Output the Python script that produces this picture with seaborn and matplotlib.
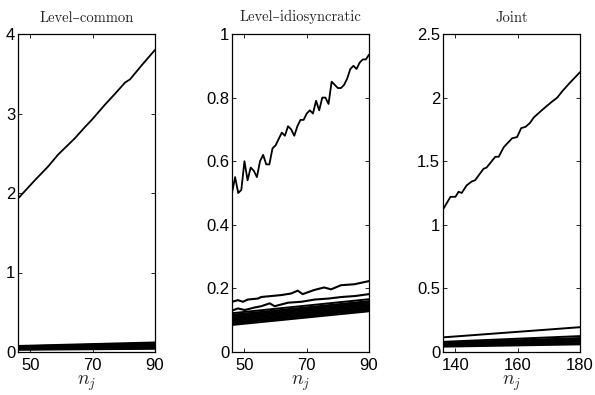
import numpy as np
import pandas as pd
import seaborn as sns
import matplotlib.pyplot as plt

# ---- Level-common ----
common_top_x = [46, 51.4, 55.6, 58.8, 64.3, 67.5, 69.7, 73.9, 77.2, 80.4, 82, 85.8, 90]
common_top_y = [1.93, 2.16, 2.33, 2.48, 2.69, 2.83, 2.92, 3.11, 3.25, 3.39, 3.43, 3.61, 3.80]
common_bundle_start = [0.028, 0.034, 0.040, 0.046, 0.052, 0.058, 0.064, 0.070, 0.076]
common_bundle_end = [0.040, 0.050, 0.060, 0.070, 0.080, 0.090, 0.100, 0.110, 0.120]

# ---- Level-idiosyncratic ----
idio_x = list(range(46, 91))
idio_top_y = [0.50, 0.55, 0.50, 0.51, 0.60, 0.54, 0.58, 0.57, 0.55, 0.60,
              0.62, 0.59, 0.59, 0.64, 0.65, 0.67, 0.69, 0.68, 0.71, 0.70,
              0.68, 0.71, 0.73, 0.73, 0.75, 0.76, 0.75, 0.79, 0.76, 0.80,
              0.80, 0.78, 0.85, 0.84, 0.83, 0.83, 0.84, 0.86, 0.89, 0.90,
              0.89, 0.91, 0.92, 0.92, 0.935]
idio_a_x = [46, 47.9, 49.5, 51.1, 54.3, 55.4, 58.6, 61.8, 65, 67.1, 68.7, 72.4, 75.6, 77.8, 81, 85.3, 90]
idio_a_y = [0.158, 0.163, 0.158, 0.165, 0.168, 0.173, 0.176, 0.179, 0.184, 0.193,
            0.182, 0.195, 0.203, 0.197, 0.210, 0.213, 0.223]
idio_b_x = [46, 47.9, 50.1, 53.3, 55.4, 58.1, 59.7, 64, 68.3, 72.6, 76.9, 81.2, 85.5, 90]
idio_b_y = [0.130, 0.137, 0.132, 0.140, 0.144, 0.153, 0.144, 0.155, 0.158, 0.165,
            0.168, 0.173, 0.176, 0.182]
idio_bundle_start = [0.085, 0.089, 0.093, 0.097, 0.101, 0.105, 0.109, 0.113, 0.117, 0.122]
idio_bundle_end = [0.128, 0.132, 0.136, 0.140, 0.144, 0.148, 0.152, 0.156, 0.160, 0.166]

# ---- Joint ----
joint_top_x = [136, 138.4, 140, 141, 142, 143.6, 145.2, 146.3, 149, 150, 152.8, 153.9,
               155.5, 158.2, 159.8, 161.1, 162.5, 163.9, 165.2, 168.4, 171.1, 172.7,
               174.3, 176.5, 180]
joint_top_y = [1.12, 1.22, 1.22, 1.26, 1.25, 1.31, 1.34, 1.35, 1.44, 1.45, 1.535, 1.535,
               1.61, 1.68, 1.69, 1.76, 1.77, 1.80, 1.845, 1.915, 1.97, 2.00,
               2.05, 2.11, 2.20]
joint_bundle_start = [0.042, 0.048, 0.054, 0.060, 0.066, 0.072, 0.080, 0.115]
joint_bundle_end = [0.060, 0.070, 0.080, 0.090, 0.100, 0.110, 0.125, 0.195]

titles = ["Level\u2013common", "Level\u2013idiosyncratic", "Joint"]
xlims = [(46, 90), (46, 90), (136, 180)]
xticks = [[50, 70, 90], [50, 70, 90], [140, 160, 180]]
ylims = [(0, 4), (0, 1), (0, 2.5)]
yticks = [[0, 1, 2, 3, 4], [0, 0.2, 0.4, 0.6, 0.8, 1], [0, 0.5, 1, 1.5, 2, 2.5]]
yticklabels = [["0", "1", "2", "3", "4"],
               ["0", "0.2", "0.4", "0.6", "0.8", "1"],
               ["0", "0.5", "1", "1.5", "2", "2.5"]]

sns.set_style("ticks")
plt.rcParams["font.family"] = ["Liberation Sans Narrow", "Liberation Sans", "DejaVu Sans"]
plt.rcParams["mathtext.fontset"] = "cm"

fig = plt.figure(figsize=(5.95, 3.95), dpi=100)
lefts = [18 / 595, 232 / 595, 443 / 595]
axes = [fig.add_axes([l, 1 - 352 / 395, 137 / 595, 318 / 395]) for l in lefts]

tops = [(common_top_x, common_top_y), (idio_x, idio_top_y), (joint_top_x, joint_top_y)]
bundles = [(common_bundle_start, common_bundle_end),
           (idio_bundle_start, idio_bundle_end),
           (joint_bundle_start, joint_bundle_end)]

for i, ax in enumerate(axes):
    x0, x1 = xlims[i]
    # straight bundle lines
    for s, e in zip(*bundles[i]):
        sns.lineplot(x=[x0, x1], y=[s, e], color="black", linewidth=1.4, ax=ax)
    if i == 1:
        sns.lineplot(x=idio_b_x, y=idio_b_y, color="black", linewidth=1.5, ax=ax)
        sns.lineplot(x=idio_a_x, y=idio_a_y, color="black", linewidth=1.5, ax=ax)
    tx, ty = tops[i]
    sns.lineplot(x=tx, y=ty, color="black", linewidth=1.3, ax=ax)

    ax.set_xlim(*xlims[i])
    ax.set_ylim(*ylims[i])
    ax.set_xticks(xticks[i])
    ax.set_yticks(yticks[i])
    ax.set_yticklabels(yticklabels[i])
    ax.tick_params(direction="in", length=3, width=0.6, top=True, right=True,
                   labelsize=12, colors="black")
    ax.tick_params(axis="x", pad=4)
    ax.tick_params(axis="y", pad=2)
    for sp in ax.spines.values():
        sp.set_visible(True)
        sp.set_linewidth(0.9)
        sp.set_color("black")
    ax.set_title(titles[i], family=["cmr10", "DejaVu Serif"], fontsize=10.5, pad=9)
    ax.set_xlabel(r"$n_j$", fontsize=14, labelpad=1)
    ax.set_ylabel("")

plt.savefig("out.png", dpi=100)
